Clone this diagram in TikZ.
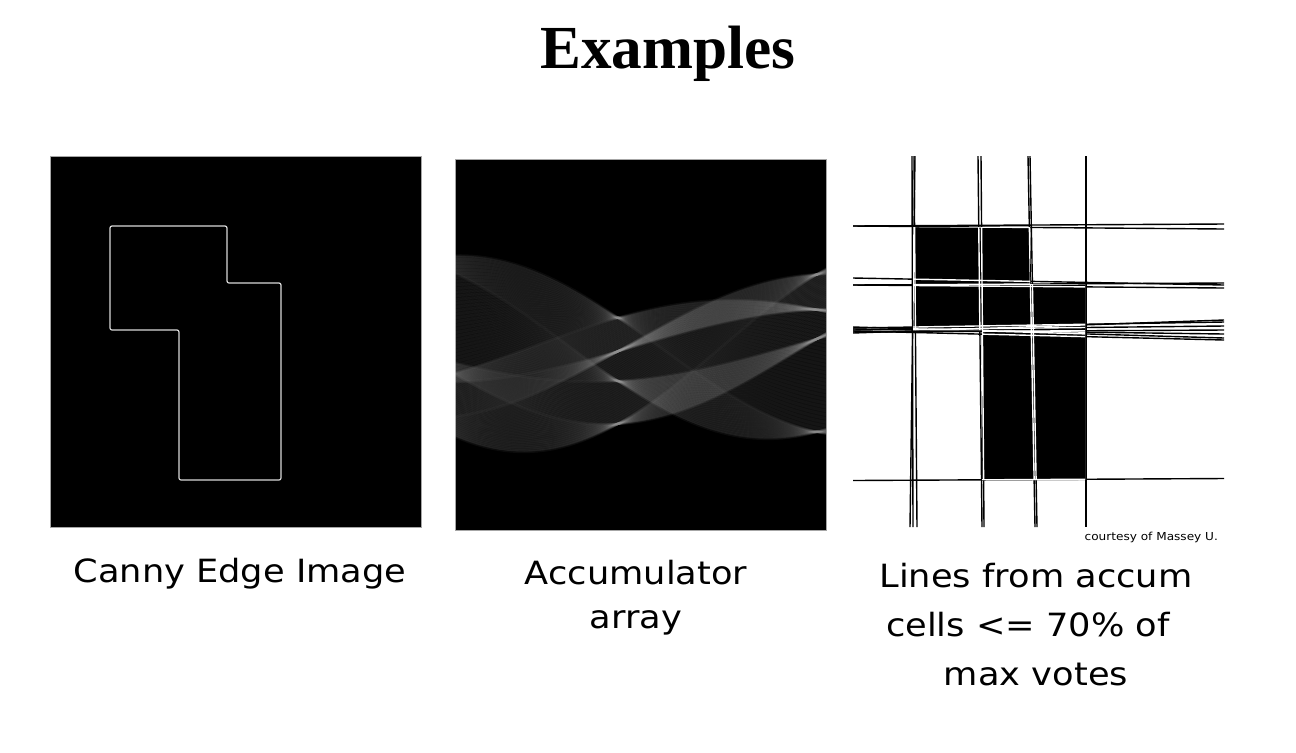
\documentclass[tikz,border=0pt]{standalone}
\usepackage{fontspec}
\setmainfont{Liberation Serif}
\newfontfamily\tah[FakeStretch=1.1]{DejaVu Sans}
\newcommand\drawcutlines[1]{%
  \foreach \ax/\ay/\bx/\by in {
    912/156/913/527, 915/156/910/527, 914/156/917/527,
    978/156/982/527, 981/156/984/527,
    1028/156/1035/527, 1030/156/1037/527,
    1086/156/1086/527,
    853/226/1224/224, 853/226/1224/229,
    853/278/1224/285, 853/285/1224/283, 853/285/1224/288,
    853/327/1224/338, 853/328/1224/322, 853/329/1224/334, 853/330/1224/326,
    853/331/1224/340, 853/332/1224/330, 853/333/1224/320,
    853/480.5/1224/478.5}{%
    \draw[cutline,#1] (\ax,\ay) -- (\bx,\by);}}
\begin{document}
\begin{tikzpicture}[x=0.5pt,y=-0.5pt,
  panel/.style={fill=black,draw=gray!70,line width=0.4pt},
  edgeline/.style={draw=white!85!black,line width=0.6pt,rounded corners=1pt},
  houghline/.style={draw=white,draw opacity=0.023,line width=1.4pt},
  houghband/.style={fill=white,fill opacity=0.025},
  cutline/.style={line width=0.7pt},
  label/.style={font=\tah\fontsize{16}{24}\selectfont,align=center,anchor=base}]
\useasboundingbox (0,0) rectangle (1296,752);
\fill[white] (0,0) rectangle (1296,752);
% title
\node[font=\bfseries\fontsize{30.6}{36}\selectfont,anchor=base] (title) at (668,68) {Examples};
% panel 1: Canny edge image
\path[panel] (50,156) rectangle (421,527);
\draw[edgeline] (110,226) -- (227,226) -- (227,283) -- (281,283) -- (281,480) -- (179,480) -- (179,330) -- (110,330) -- cycle;
% panel 2: accumulator
\path[panel] (455,159) rectangle (826,530);
\begin{scope}
\clip (455,159) rectangle (826,530);
\foreach \xa/\ya/\xb/\yb in {-125.5/-115.5/-8.5/-115.5, -8.5/-115.5/-8.5/-58.5,
    -8.5/-58.5/45.5/-58.5, 45.5/-58.5/45.5/138.5, 45.5/138.5/-56.5/138.5,
    -56.5/138.5/-56.5/-11.5, -56.5/-11.5/-125.5/-11.5, -125.5/-11.5/-125.5/-115.5}{
  \fill[houghband] plot[domain=-74:95,samples=60] ({618+2.21*\x},{346+0.62*(-(\xa)*cos(\x)+(\ya)*sin(\x))})
     -- plot[domain=95:-74,samples=60] ({618+2.21*\x},{346+0.62*(-(\xb)*cos(\x)+(\yb)*sin(\x))}) -- cycle;
  \foreach \i in {0,...,32}{
    \pgfmathsetmacro\hX{\xa+(\xb-\xa)*\i/32}
    \pgfmathsetmacro\hY{\ya+(\yb-\ya)*\i/32}
    \draw[houghline] plot[domain=-74:95,samples=60] ({618+2.21*\x},{346+0.62*(-(\hX)*cos(\x)+(\hY)*sin(\x))});
  }
}
\end{scope}
% panel 3: detected lines
\begin{scope}
\clip (853,156) rectangle (1224,527);
\fill[black] (913,227) -- (1030,227) -- (1030,284) -- (1085,284) -- (1085,480) -- (982,480) -- (982,330) -- (913,330) -- cycle;
\drawcutlines{black}
\clip (913,227) -- (1030,227) -- (1030,284) -- (1085,284) -- (1085,480) -- (982,480) -- (982,330) -- (913,330) -- cycle;
\drawcutlines{white}
\end{scope}
\node[font=\tah\fontsize{5.5}{6}\selectfont,anchor=base east] (credit) at (1225,540) {courtesy of Massey U.};
% labels (anchor base = baseline of the last line)
\node[label] (l1) at (240,582) {Canny Edge Image};
\node[label,font=\tah\fontsize{16}{22}\selectfont] (l2) at (636,628) {Accumulator\\array};
\node[label,font=\tah\fontsize{16}{24.5}\selectfont] (l3) at (1036,685) {Lines from accum\\cells <= 70\% of\hbox to 8pt{}\\max votes};
\end{tikzpicture}
\end{document}
